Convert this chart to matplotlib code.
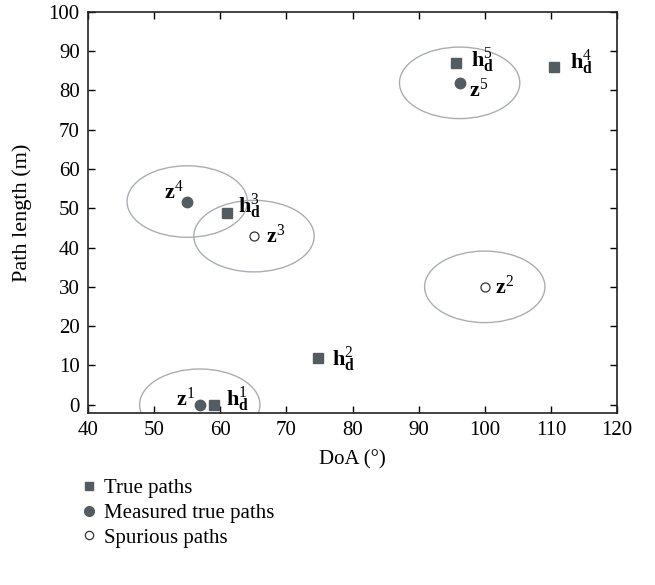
import numpy as np
import matplotlib.pyplot as plt
from matplotlib.patches import Ellipse
from matplotlib.lines import Line2D

plt.rcParams['font.family'] = ['Liberation Serif', 'DejaVu Serif']
plt.rcParams['mathtext.fontset'] = 'custom'
plt.rcParams['mathtext.rm'] = 'Liberation Serif'
plt.rcParams['mathtext.bf'] = 'Liberation Serif:bold'
plt.rcParams['mathtext.it'] = 'Liberation Serif:italic'

# true paths h_d^k (DoA in degrees, path length in m)
true_doa = [59.1, 74.8, 61.0, 110.5, 95.6]
true_len = [0.0, 12.0, 48.7, 85.9, 86.9]
true_lbl = ['1', '2', '3', '4', '5']

# measured true paths
meas_doa = [56.9, 55.0, 96.2]
meas_len = [0.0, 51.7, 81.9]
meas_lbl = ['1', '4', '5']

# spurious paths
spur_doa = [100.0, 65.1]
spur_len = [30.0, 42.9]
spur_lbl = ['2', '3']

# gate radius around each measurement (deg, m)
gate_w = 9.1
gate_h = 9.1

mark_col = '#545c61'
gate_col = '#a9aeb4'

fig = plt.figure(figsize=(6.55, 5.85), dpi=100)
ax = fig.add_axes([0.1344, 0.294, 0.8076, 0.686])

# gates around the measurements
for x, y in zip(meas_doa + spur_doa, meas_len + spur_len):
    ax.add_patch(Ellipse((x, y), 2 * gate_w, 2 * gate_h, fill=False,
                         edgecolor=gate_col, linewidth=1.0, zorder=1))

ax.plot(true_doa, true_len, 's', color=mark_col, markersize=6.5, linestyle='none', zorder=3)
ax.plot(meas_doa, meas_len, 'o', color=mark_col, markersize=7.5, linestyle='none', zorder=3)
ax.plot(spur_doa, spur_len, 'o', markerfacecolor='white', markeredgecolor='#333333',
        markeredgewidth=0.9, markersize=6.5, linestyle='none', zorder=3)

# label offsets (pixels) and alignment
h_off = [(12, 5), (14, -2), (11, 7), (16, 5), (15, 3)]
z_off = [(-5, 6), (-4, 9), (9, -7)]
s_off = [(10, 0), (12, 0)]

fs = 16
for x, y, k, (dx, dy) in zip(true_doa, true_len, true_lbl, h_off):
    ax.annotate(r'$\mathbf{h}_{\mathbf{d}}^{%s}$' % k, (x, y), xytext=(dx, dy),
                textcoords='offset pixels', ha='left', va='center', fontsize=fs)
for x, y, k, (dx, dy) in zip(meas_doa, meas_len, meas_lbl, z_off):
    ax.annotate(r'$\mathbf{z}^{%s}$' % k, (x, y), xytext=(dx, dy),
                textcoords='offset pixels', ha='right' if dx < 0 else 'left',
                va='center', fontsize=fs)
for x, y, k, (dx, dy) in zip(spur_doa, spur_len, spur_lbl, s_off):
    ax.annotate(r'$\mathbf{z}^{%s}$' % k, (x, y), xytext=(dx, dy),
                textcoords='offset pixels', ha='left', va='center', fontsize=fs)

ax.set_xlim(40, 120)
ax.set_ylim(-2.1, 100)
ax.set_xticks(np.arange(40, 121, 10))
ax.set_yticks(np.arange(0, 101, 10))
ax.tick_params(direction='in', top=True, right=True, labeltop=False, labelright=False,
               length=5, width=1, labelsize=15, pad=6)
for s in ax.spines.values():
    s.set_linewidth(1.2)
    s.set_color('#222222')

ax.set_xlabel('DoA (°)', fontsize=15, labelpad=7)
ax.set_ylabel('Path length (m)', fontsize=16, labelpad=12)

handles = [
    Line2D([], [], marker='s', color=mark_col, linestyle='none', markersize=6),
    Line2D([], [], marker='o', color=mark_col, linestyle='none', markersize=7),
    Line2D([], [], marker='o', markerfacecolor='white', markeredgecolor='#333333',
           markeredgewidth=0.9, linestyle='none', markersize=6),
]
fig.legend(handles, ['True paths', 'Measured true paths', 'Spurious paths'],
           loc='upper left', bbox_to_anchor=(0.126, 0.182), frameon=False,
           fontsize=15, handlelength=0.6, handletextpad=0.45, labelspacing=0.25,
           borderaxespad=0, borderpad=0)

fig.savefig('out.png', dpi=100)
